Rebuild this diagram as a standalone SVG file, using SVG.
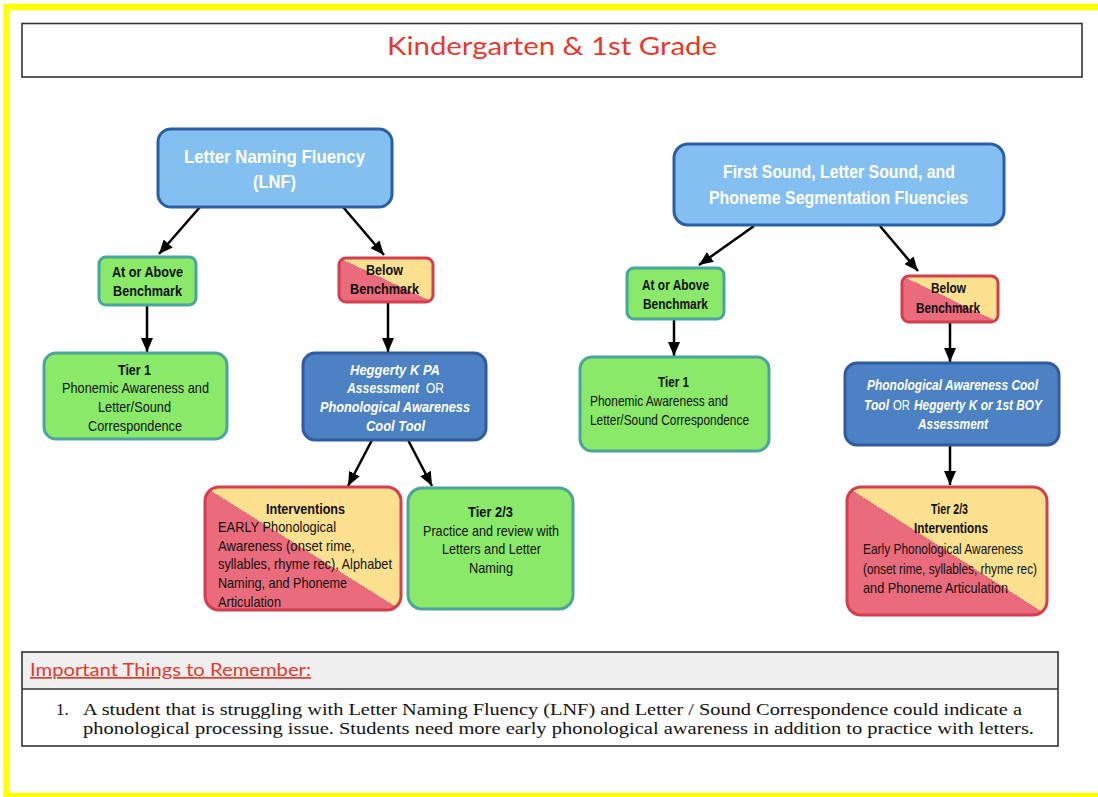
<svg xmlns="http://www.w3.org/2000/svg" width="1098" height="797" viewBox="0 0 1098 797">
<style>
.lb{fill:#83bff0;stroke:#2c5ea6;stroke-width:3}
.gr{fill:#8ae968;stroke:#4ba59c;stroke-width:3}
.db{fill:#4c82c4;stroke:#2e5c9f;stroke-width:3}
.ry{fill:url(#split);stroke:#d43f4f;stroke-width:3}
text{font-family:"Liberation Sans",Arial,sans-serif}
.h{font-size:19px;font-weight:bold;fill:#fff}
.b{font-size:14.5px;font-weight:bold;fill:#111}
.n{font-size:14.5px;fill:#111}
.wi{font-size:14.5px;font-weight:bold;font-style:italic;fill:#fff}
.wn{font-size:14.5px;fill:#fff}
.conn line{stroke:#000;stroke-width:2.5;marker-end:url(#arr)}
.ser{font-family:"Liberation Serif","Times New Roman",serif;font-size:17px;fill:#111}
.rnd{font-family:Lato,"Open Sans",sans-serif;fill:#e8382c}
</style>
<defs>
<linearGradient id="split" x1="0" y1="1" x2="1" y2="0">
<stop offset="0.5" stop-color="#e96b7c"/>
<stop offset="0.5" stop-color="#fae08f"/>
</linearGradient>
<marker id="arr" markerUnits="userSpaceOnUse" markerWidth="14" markerHeight="12" refX="14" refY="6" orient="auto">
<path d="M0,0 L14,6 L0,12 z" fill="#000"/>
</marker>
</defs>
<rect x="0" y="0" width="1098" height="797" fill="#fff"/>
<rect x="6.5" y="7" width="1100" height="789" fill="none" stroke="#ffff00" stroke-width="6.5"/>

<g id="title">
<rect x="22" y="23.5" width="1060" height="53.5" fill="#fff" stroke="#333" stroke-width="1.6"/>
<text class="rnd" x="387" y="55" font-size="25" textLength="330" lengthAdjust="spacingAndGlyphs">Kindergarten &amp; 1st Grade</text>
</g>

<g id="connectors" class="conn">
<line x1="200" y1="207" x2="159" y2="254"/>
<line x1="343" y1="207" x2="384" y2="255"/>
<line x1="147" y1="305" x2="147" y2="352"/>
<line x1="388" y1="302" x2="388" y2="352"/>
<line x1="372" y1="440" x2="348" y2="486"/>
<line x1="408" y1="440" x2="432" y2="486"/>
<line x1="754" y1="226" x2="699" y2="265"/>
<line x1="880" y1="226" x2="918" y2="271"/>
<line x1="674" y1="319" x2="674" y2="356"/>
<line x1="950" y1="322" x2="950" y2="362"/>
<line x1="950" y1="445" x2="950" y2="485"/>
</g>

<g id="lnf">
<rect class="lb" x="158" y="129" width="234" height="78" rx="13"/>
<text class="h" x="184" y="163" textLength="181" lengthAdjust="spacingAndGlyphs">Letter Naming Fluency</text>
<text class="h" x="253" y="188" textLength="43" lengthAdjust="spacingAndGlyphs">(LNF)</text>
</g>
<g id="above-left">
<rect class="gr" x="99" y="257" width="97" height="48" rx="7"/>
<text class="b" x="112" y="277" textLength="71" lengthAdjust="spacingAndGlyphs">At or Above</text>
<text class="b" x="113" y="296" textLength="69" lengthAdjust="spacingAndGlyphs">Benchmark</text>
</g>
<g id="below-left">
<rect class="ry" x="339" y="258" width="94" height="44" rx="7"/>
<text class="b" x="366" y="275" textLength="37" lengthAdjust="spacingAndGlyphs">Below</text>
<text class="b" x="350" y="294" textLength="69" lengthAdjust="spacingAndGlyphs">Benchmark</text>
</g>
<g id="tier1-left">
<rect class="gr" x="44" y="353" width="183" height="86" rx="12"/>
<text class="b" x="118" y="375" textLength="33" lengthAdjust="spacingAndGlyphs">Tier 1</text>
<text class="n" x="62" y="393" textLength="147" lengthAdjust="spacingAndGlyphs">Phonemic Awareness and</text>
<text class="n" x="98" y="412" textLength="73" lengthAdjust="spacingAndGlyphs">Letter/Sound</text>
<text class="n" x="88" y="431" textLength="94" lengthAdjust="spacingAndGlyphs">Correspondence</text>
</g>
<g id="heggerty-left">
<rect class="db" x="303" y="353" width="183" height="87" rx="12"/>
<text class="wi" x="350" y="375" textLength="90" lengthAdjust="spacingAndGlyphs">Heggerty K PA</text>
<text class="wi" x="347" y="393" textLength="72" lengthAdjust="spacingAndGlyphs">Assessment</text>
<text class="wn" x="426" y="393" textLength="18" lengthAdjust="spacingAndGlyphs">OR</text>
<text class="wi" x="320" y="412" textLength="150" lengthAdjust="spacingAndGlyphs">Phonological Awareness</text>
<text class="wi" x="366" y="431" textLength="59" lengthAdjust="spacingAndGlyphs">Cool Tool</text>
</g>
<g id="interventions-left">
<rect class="ry" x="205" y="487" width="196" height="123" rx="14"/>
<text class="b" x="266" y="514" textLength="79" lengthAdjust="spacingAndGlyphs">Interventions</text>
<text class="n" x="218" y="532" textLength="118" lengthAdjust="spacingAndGlyphs">EARLY Phonological</text>
<text class="n" x="218" y="551" textLength="137" lengthAdjust="spacingAndGlyphs">Awareness (onset rime,</text>
<text class="n" x="218" y="569" textLength="174" lengthAdjust="spacingAndGlyphs">syllables, rhyme rec), Alphabet</text>
<text class="n" x="218" y="588" textLength="129" lengthAdjust="spacingAndGlyphs">Naming, and Phoneme</text>
<text class="n" x="218" y="607" textLength="63" lengthAdjust="spacingAndGlyphs">Articulation</text>
</g>
<g id="tier23-left">
<rect class="gr" x="408" y="488" width="165" height="121" rx="14"/>
<text class="b" x="468" y="517" textLength="45" lengthAdjust="spacingAndGlyphs">Tier 2/3</text>
<text class="n" x="423" y="536" textLength="136" lengthAdjust="spacingAndGlyphs">Practice and review with</text>
<text class="n" x="442" y="554" textLength="99" lengthAdjust="spacingAndGlyphs">Letters and Letter</text>
<text class="n" x="469" y="573" textLength="44" lengthAdjust="spacingAndGlyphs">Naming</text>
</g>

<g id="fsf">
<rect class="lb" x="674" y="144" width="330" height="81" rx="14"/>
<text class="h" x="723" y="178" textLength="232" lengthAdjust="spacingAndGlyphs">First Sound, Letter Sound, and</text>
<text class="h" x="709" y="204" textLength="259" lengthAdjust="spacingAndGlyphs">Phoneme Segmentation Fluencies</text>
</g>
<g id="above-right">
<rect class="gr" x="627" y="268" width="97" height="51" rx="7"/>
<text class="b" x="642" y="290" textLength="67" lengthAdjust="spacingAndGlyphs">At or Above</text>
<text class="b" x="643" y="309" textLength="65" lengthAdjust="spacingAndGlyphs">Benchmark</text>
</g>
<g id="below-right">
<rect class="ry" x="902" y="276" width="96" height="46" rx="7"/>
<text class="b" x="931" y="293" textLength="35" lengthAdjust="spacingAndGlyphs">Below</text>
<text class="b" x="916" y="313" textLength="64" lengthAdjust="spacingAndGlyphs">Benchmark</text>
</g>
<g id="tier1-right">
<rect class="gr" x="580" y="357" width="189" height="94" rx="12"/>
<text class="b" x="658" y="387" textLength="31" lengthAdjust="spacingAndGlyphs">Tier 1</text>
<text class="n" x="590" y="406" textLength="138" lengthAdjust="spacingAndGlyphs">Phonemic Awareness and</text>
<text class="n" x="590" y="425" textLength="159" lengthAdjust="spacingAndGlyphs">Letter/Sound Correspondence</text>
</g>
<g id="cooltool-right">
<rect class="db" x="845" y="363" width="214" height="82" rx="12"/>
<text class="wi" x="867" y="390" textLength="171" lengthAdjust="spacingAndGlyphs">Phonological Awareness Cool</text>
<text class="wi" x="864" y="410" textLength="25" lengthAdjust="spacingAndGlyphs">Tool</text>
<text class="wn" x="893" y="410" textLength="17" lengthAdjust="spacingAndGlyphs">OR</text>
<text class="wi" x="914" y="410" textLength="128" lengthAdjust="spacingAndGlyphs">Heggerty K or 1st BOY</text>
<text class="wi" x="918" y="429" textLength="70" lengthAdjust="spacingAndGlyphs">Assessment</text>
</g>
<g id="tier23-right">
<rect class="ry" x="847" y="487" width="200" height="128" rx="14"/>
<text class="b" x="931" y="514" textLength="37" lengthAdjust="spacingAndGlyphs">Tier 2/3</text>
<text class="b" x="914" y="533" textLength="74" lengthAdjust="spacingAndGlyphs">Interventions</text>
<text class="n" x="863" y="554" textLength="160" lengthAdjust="spacingAndGlyphs">Early Phonological Awareness</text>
<text class="n" x="863" y="574" textLength="174" lengthAdjust="spacingAndGlyphs">(onset rime, syllables, rhyme rec)</text>
<text class="n" x="863" y="593" textLength="145" lengthAdjust="spacingAndGlyphs">and Phoneme Articulation</text>
</g>

<g id="notes">
<rect x="22" y="652" width="1036" height="37" fill="#efefef"/>
<rect x="22" y="652" width="1036" height="94" fill="none" stroke="#333" stroke-width="1.6"/>
<line x1="22" y1="689" x2="1058" y2="689" stroke="#333" stroke-width="1.6"/>
<text class="rnd" x="30" y="676" font-size="17" text-decoration="underline" textLength="281" lengthAdjust="spacingAndGlyphs">Important Things to Remember:</text>
<text class="ser" x="56" y="715">1.</text>
<text class="ser" x="83" y="715" textLength="939" lengthAdjust="spacingAndGlyphs">A student that is struggling with Letter Naming Fluency (LNF) and Letter / Sound Correspondence could indicate a</text>
<text class="ser" x="83" y="734" textLength="951" lengthAdjust="spacingAndGlyphs">phonological processing issue. Students need more early phonological awareness in addition to practice with letters.</text>
</g>
</svg>
